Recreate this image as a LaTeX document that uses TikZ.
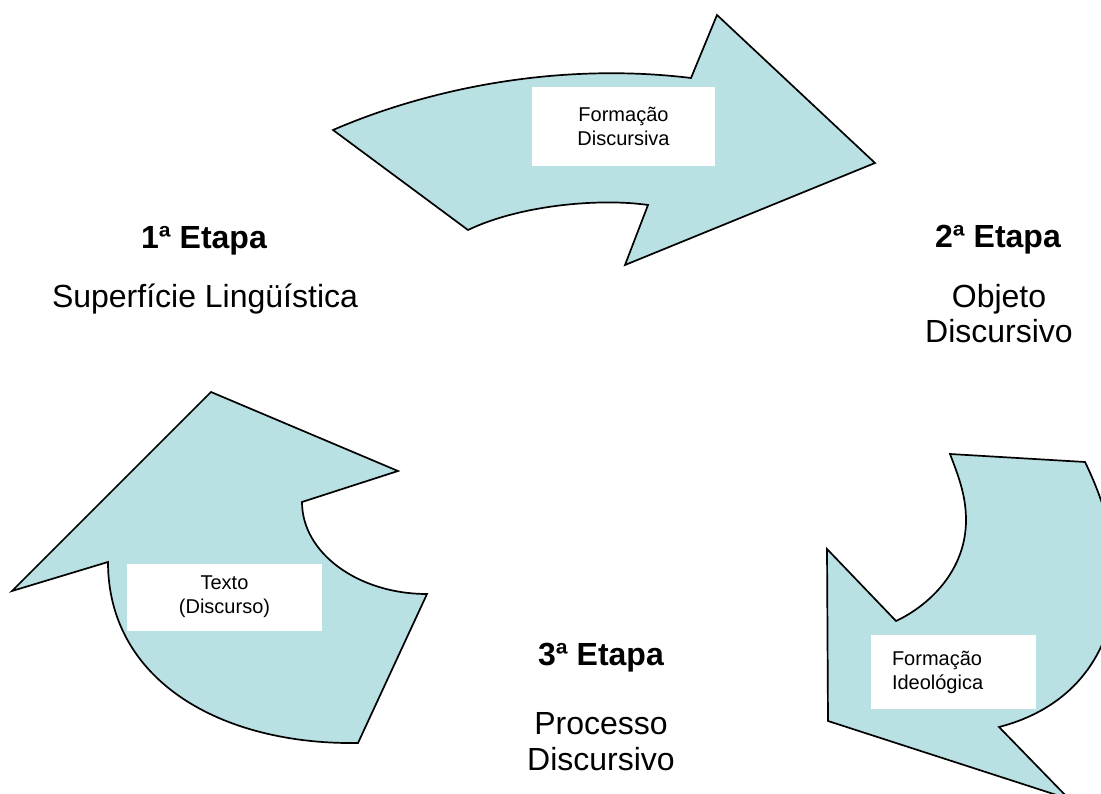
\documentclass[tikz,border=0pt]{standalone}
\usepackage{fontspec}
\setmainfont{Liberation Sans}
\definecolor{arrowblue}{RGB}{185,224,227}
\tikzset{
  arrowshape/.style={fill=arrowblue, draw=black, line width=1.7pt, line join=miter},
  labelbox/.style={fill=white, draw=none, inner sep=0pt, font=\fontsize{20}{24}\selectfont},
  bigtitle/.style={font=\fontsize{32}{36}\selectfont\bfseries, anchor=base, inner sep=0pt},
  bigtext/.style={font=\fontsize{32}{36}\selectfont, anchor=base, inner sep=0pt}
}
\begin{document}
\begin{tikzpicture}[x=1pt,y=-1pt]
\useasboundingbox (0,0) rectangle (1101,794);
\begin{scope}
\clip (0,0) rectangle (1101,794);
% top arrow
\draw[arrowshape] (333,130) .. controls (430,88) and (560,62) .. (691,78) -- (717,15) -- (875,163) -- (625,265) -- (648,205) .. controls (600,198) and (520,205) .. (468,230) -- cycle;
% left arrow
\draw[arrowshape] (211,392) -- (398,471) -- (302,502) .. controls (302,553) and (358,594) .. (427,594) -- (358,743) .. controls (220,745) and (108,680) .. (108,562) -- (12,591) -- cycle;
% right arrow
\draw[arrowshape] (950,454) -- (1085,462) .. controls (1150,595) and (1105,700) .. (999,727) -- (1069,799) -- (828,721) -- (827,549) -- (896,621) .. controls (930,605) and (966,570) .. (966,520) .. controls (966,495) and (958,475) .. (950,454) -- cycle;
\end{scope}
% label boxes
\node[labelbox, minimum width=183pt, minimum height=79pt, align=center] (fd) at (623.5,126.5) {Formação\\Discursiva};
\node[labelbox, minimum width=195pt, minimum height=67pt, align=center] (td) at (224.5,597) {Texto\\(Discurso)};
\node[labelbox, text width=123pt, inner xsep=21pt, minimum height=74pt, align=left] (fi) at (953.5,672) {Formação\\Ideológica};
% stage labels
\node[bigtitle] (e1) at (204,249) {1ª Etapa};
\node[bigtext] (s1) at (205,308) {Superfície Lingüística};
\node[bigtitle] (e2) at (998,248) {2ª Etapa};
\node[bigtext] (o2a) at (999,308) {Objeto};
\node[bigtext] (o2b) at (999,343) {Discursivo};
\node[bigtitle] (e3) at (601,665) {3ª Etapa};
\node[bigtext] (p3a) at (601,734) {Processo};
\node[bigtext] (p3b) at (601,770) {Discursivo};
\end{tikzpicture}
\end{document}
